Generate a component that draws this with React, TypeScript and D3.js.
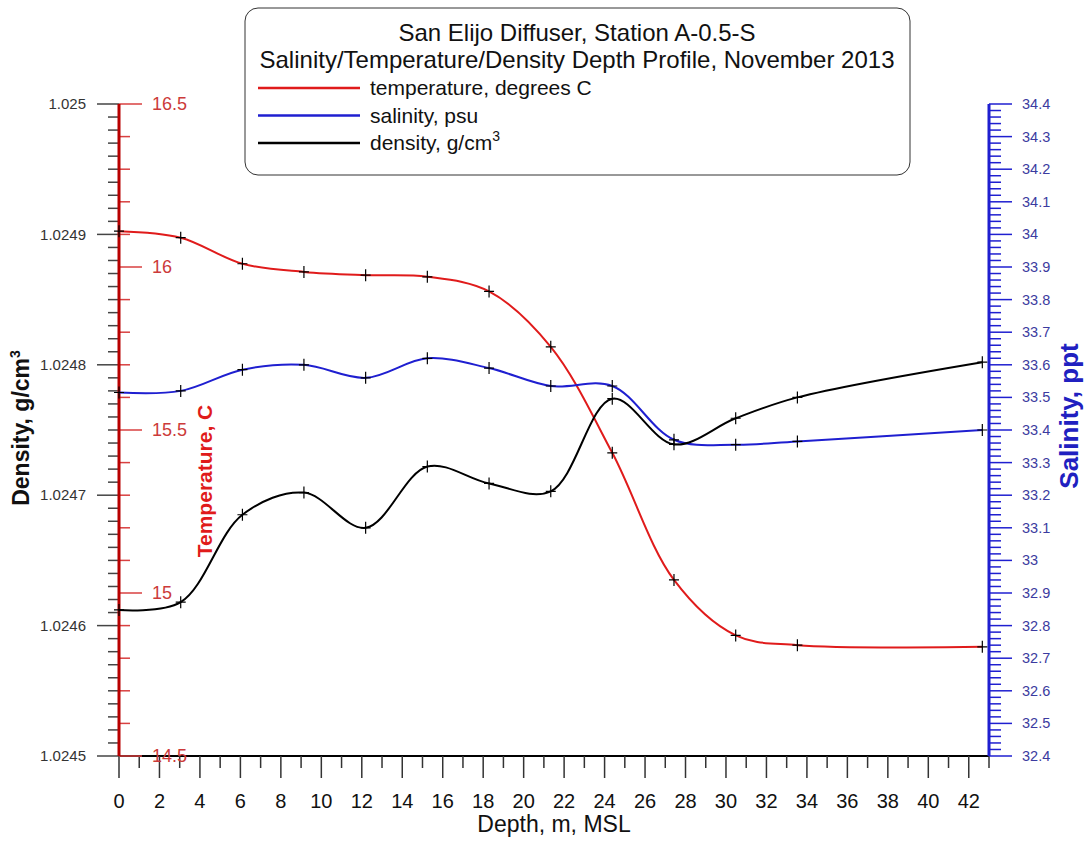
import React from "react";
import * as d3 from "d3";

// depth of each cast sample (m) and the three measured profiles
const depths = [0, 3.05, 6.1, 9.14, 12.19, 15.24, 18.29, 21.34, 24.38, 27.43, 30.48, 33.53, 42.67];
const temperature = [16.11, 16.09, 16.01, 15.985, 15.975, 15.97, 15.925, 15.755, 15.43, 15.04, 14.87, 14.84, 14.835];
const salinity = [33.515, 33.52, 33.585, 33.6, 33.56, 33.62, 33.59, 33.535, 33.535, 33.37, 33.355, 33.365, 33.4];
const density = [1.024612, 1.024618, 1.024685, 1.024702, 1.024675, 1.024722, 1.024709, 1.024703, 1.024774, 1.024739, 1.024759, 1.024775, 1.024802];

const titleLines = ["San Elijo Diffuser, Station A-0.5-S", "Salinity/Temperature/Density Depth Profile, November 2013"];
const legendLabels = ["temperature, degrees C", "salinity, psu", "density, g/cm"];

const depthMajor = d3.range(0, 43, 2);
const depthMinor = d3.range(0, 44, 1);
const densityMajor = d3.range(0, 6).map((i) => 1.0245 + i * 0.0001);
const densityMinor = d3.range(0, 51).map((i) => 1.0245 + i * 0.00001);
const tempMajor = [14.5, 15, 15.5, 16, 16.5];
const tempMinor = d3.range(0, 21).map((i) => 14.5 + i * 0.1);
const salMajor = d3.range(0, 21).map((i) => 32.4 + i * 0.1);
const salMinor = d3.range(0, 101).map((i) => 32.4 + i * 0.02);

const FONT = "'Liberation Sans', Arial, sans-serif";
const RED = "#e01b1b";
const BLUE = "#1f1fd0";

export default function App() {
  const left = 119, right = 989, top = 104, bottom = 756;

  const x = d3.scaleLinear().domain([0, 43]).range([left, right]);
  const yT = d3.scaleLinear().domain([14.5, 16.5]).range([bottom, top]);
  const yS = d3.scaleLinear().domain([32.4, 34.4]).range([bottom, top]);
  const yD = d3.scaleLinear().domain([1.0245, 1.025]).range([bottom, top]);

  const mk = (vals: number[], y: d3.ScaleLinear<number, number>) =>
    d3
      .line<number>()
      .x((_, i) => x(depths[i]))
      .y((v) => y(v))
      .curve(d3.curveCatmullRom.alpha(0.5))(vals) || "";

  const series = [
    { vals: temperature, y: yT, color: RED },
    { vals: salinity, y: yS, color: BLUE },
    { vals: density, y: yD, color: "#000" },
  ];

  return (
    <svg width={1086} height={842} style={{ position: "absolute", left: 0, top: 0, background: "#fff" }} fontFamily={FONT}>
      {/* x axis */}
      <line x1={left} x2={right} y1={bottom} y2={bottom} stroke="#000" strokeWidth={2} />
      {depthMinor.map((d) => (
        <line key={"xm" + d} x1={x(d)} x2={x(d)} y1={bottom} y2={bottom + (d % 2 === 0 ? 22 : 12)} stroke="#333" strokeWidth={1.5} />
      ))}
      {depthMajor.map((d) => (
        <text key={"xl" + d} x={x(d)} y={808} fontSize={20} textAnchor="middle" fill="#111">
          {d}
        </text>
      ))}
      <text x={(left + right) / 2} y={832} fontSize={23} textAnchor="middle" fill="#111">
        Depth, m, MSL
      </text>

      {/* density ticks, left of the left axis */}
      {densityMinor.map((v, i) => (
        <line key={"dm" + i} x1={i % 10 === 0 ? 97 : 108} x2={left} y1={yD(v)} y2={yD(v)} stroke="#444" strokeWidth={1.5} />
      ))}
      {densityMajor.map((v, i) => (
        <text key={"dl" + i} x={86} y={yD(v)} dy="0.35em" fontSize={15} textAnchor="end" fill="#333">
          {String(+v.toFixed(4))}
        </text>
      ))}

      {/* temperature ticks, right of the left axis */}
      {tempMinor.map((v, i) => (
        <line key={"tm" + i} x1={left} x2={i % 5 === 0 ? 142 : 130} y1={yT(v)} y2={yT(v)} stroke="#d84040" strokeWidth={1.5} />
      ))}
      {tempMajor.map((v) => (
        <text key={"tl" + v} x={152} y={yT(v)} dy="0.35em" fontSize={18} fill="#cc3a3a">
          {String(v)}
        </text>
      ))}
      <line x1={left} x2={left} y1={top} y2={bottom} stroke="#b80000" strokeWidth={3} />

      {/* salinity axis on the right */}
      {salMinor.map((v, i) => (
        <line key={"sm" + i} x1={right} x2={i % 5 === 0 ? 1012 : 1001} y1={yS(v)} y2={yS(v)} stroke={BLUE} strokeWidth={1.5} />
      ))}
      {salMajor.map((v, i) => (
        <text key={"sl" + i} x={1022} y={yS(v)} dy="0.35em" fontSize={14.5} fill="#3b3ba0">
          {String(+v.toFixed(1))}
        </text>
      ))}
      <line x1={right} x2={right} y1={top} y2={bottom} stroke={BLUE} strokeWidth={3} />

      {/* axis titles */}
      <text transform="translate(29,428) rotate(-90)" fontSize={23} fontWeight="bold" textAnchor="middle" fill="#111">
        Density, g/cm<tspan fontSize={14} dy={-9}>3</tspan>
      </text>
      <text transform="translate(212,481) rotate(-90)" fontSize={21} fontWeight="bold" textAnchor="middle" fill={RED}>
        Temperature, C
      </text>
      <text transform="translate(1078,416) rotate(-90)" fontSize={26} fontWeight="bold" textAnchor="middle" fill="#2020c0">
        Salinity, ppt
      </text>

      {/* profiles */}
      {series.map((s, k) => (
        <g key={"s" + k}>
          <path d={mk(s.vals, s.y)} fill="none" stroke={s.color} strokeWidth={2} />
          {s.vals.map((v, i) => {
            const cx = x(depths[i]);
            const cy = s.y(v);
            return (
              <path key={i} d={`M${cx - 5},${cy}H${cx + 5}M${cx},${cy - 6}V${cy + 6}`} stroke="#000" strokeWidth={1.2} />
            );
          })}
        </g>
      ))}

      {/* title / legend box */}
      <rect x={245} y={8} width={665} height={167} rx={13} fill="#fff" stroke="#333" strokeWidth={1} />
      {titleLines.map((t, i) => (
        <text key={t} x={577} y={41 + i * 27} fontSize={24} textAnchor="middle" fill="#111">
          {t}
        </text>
      ))}
      {legendLabels.map((l, i) => (
        <g key={l}>
          <line x1={258} x2={360} y1={88 + i * 27.5} y2={88 + i * 27.5} stroke={series[i].color} strokeWidth={2.5} />
          <text x={370} y={88 + i * 27.5} dy="0.35em" fontSize={21} fill="#111">
            {l}
            {i === 2 && (
              <tspan fontSize={14} dy={-9}>
                3
              </tspan>
            )}
          </text>
        </g>
      ))}
    </svg>
  );
}
